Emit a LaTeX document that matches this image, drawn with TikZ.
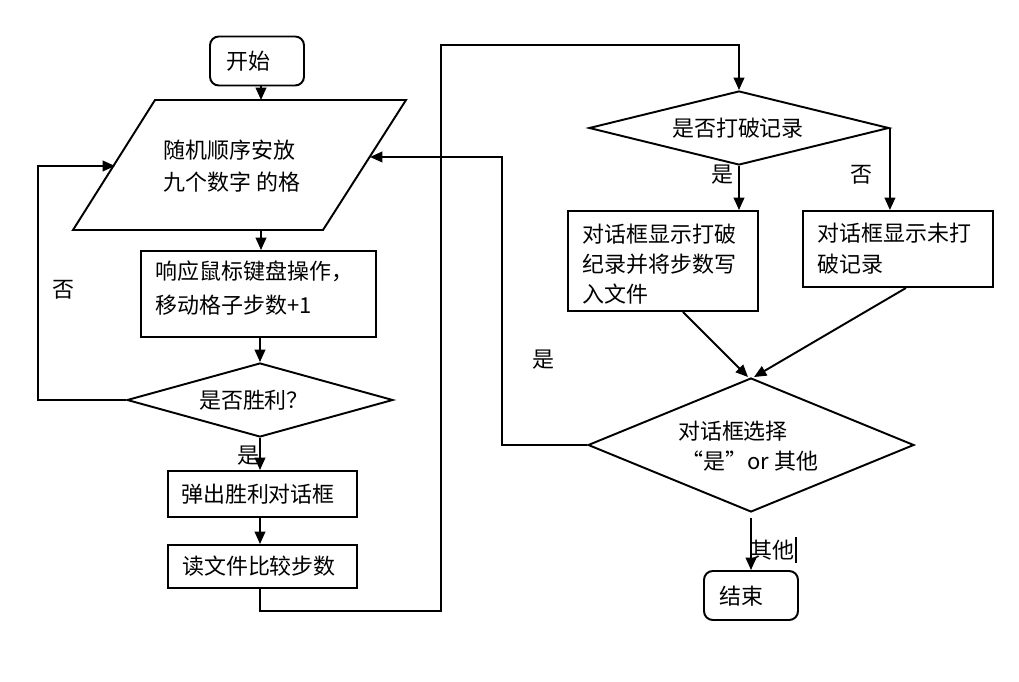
\documentclass[tikz,border=0pt]{standalone}
\usepackage{fontspec}
\newfontfamily\cjk{Noto Sans CJK SC}
\usetikzlibrary{shapes.geometric,arrows.meta}
\begin{document}
\begin{tikzpicture}[x=0.02cm,y=-0.02cm,
  line width=1.1pt,
  every node/.style={font=\cjk\fontsize{12.5}{17}\selectfont},
  box/.style={draw,rectangle,inner sep=0pt,line width=1.1pt},
  rbox/.style={box,rounded corners=5pt},
  dia/.style={draw,diamond,inner sep=0pt,line width=1.1pt},
  txt/.style={inner sep=0pt,align=left},
  arr/.style={-{Triangle[length=7pt,width=6pt]},line width=1.1pt},
  lbl/.style={inner sep=0pt},
]
\useasboundingbox (0,0) rectangle (1019,682);

% start
\node[rbox,minimum width=1.88cm,minimum height=0.98cm] (start) at (257,61) {};
\node[lbl] (starttxt) at (248,61) {开始};

% parallelogram
\draw (155,100) -- (406,100) -- (323,230) -- (73,230) -- cycle;
\coordinate (pT) at (261,100);
\coordinate (pB) at (261,230);
\coordinate (pL) at (115,166);
\coordinate (pR) at (370,157);
\node[txt,anchor=west,font=\cjk\fontsize{12.5}{17.8}\selectfont] (ptxt) at (163,166) {随机顺序安放\\九个数字 的格};

% box1
\node[box,minimum width=4.7cm,minimum height=1.72cm] (b1) at (258.5,294) {};
\node[txt,anchor=west,font=\cjk\fontsize{12.5}{19.8}\selectfont] (b1txt) at (155,288) {响应鼠标键盘操作，\\移动格子步数+1};

% diamond 1
\node[dia,minimum width=5.32cm,minimum height=1.48cm] (d1) at (260,400) {};
\node[lbl] (d1txt) at (254,400) {是否胜利？};

% box2, box3
\node[box,minimum width=3.78cm,minimum height=0.92cm] (b2) at (262.5,494) {};
\node[lbl] (b2txt) at (258,494) {弹出胜利对话框};
\node[box,minimum width=3.78cm,minimum height=0.86cm] (b3) at (262.5,566.5) {};
\node[lbl] (b3txt) at (259,566) {读文件比较步数};

% diamond 2
\node[dia,minimum width=6cm,minimum height=1.48cm] (d2) at (739,128) {};
\node[lbl] (d2txt) at (738,128) {是否打破记录};

% box4, box5
\node[box,minimum width=3.8cm,minimum height=2cm] (b4) at (663,261) {};
\node[txt,anchor=west] (b4txt) at (582,264) {对话框显示打破\\纪录并将步数写\\入文件};
\node[box,minimum width=3.8cm,minimum height=1.52cm] (b5) at (898,249) {};
\node[txt,anchor=west,font=\cjk\fontsize{12.5}{17.6}\selectfont] (b5txt) at (817,248.5) {对话框显示未打\\破记录};

% diamond 3
\node[dia,minimum width=6.52cm,minimum height=2.68cm] (d3) at (751,445) {};
\node[lbl] (d3a) at (733,431) {对话框选择};
\node[lbl] (d3b) at (750,461) {“是”or 其他};

% end
\node[rbox,minimum width=1.88cm,minimum height=0.98cm] (end) at (751,595.5) {};
\node[lbl] (endtxt) at (741,596) {结束};

% connectors left column
\draw[arr] (start.south -| pT) -- (pT);
\draw[arr] (pB) -- (pB |- b1.north);
\draw[arr] (b1.south -| d1.north) -- (d1.north);
\draw[arr] (d1.south) -- (d1.south |- b2.north);
\draw[arr] (b2.south -| d1.south) -- (d1.south |- b3.north);
\draw[arr] (d1.west) -- (38,400) |- (pL);
\node[lbl] (no1) at (63,290) {否};
\node[lbl] (yes1) at (248,456) {是};

% to right column
\draw[arr] (b3.south -| d1.south) -- (260,611) -- (441,611) -- (441,45) -| (d2.north);
\draw[arr] (d2.south) -- (d2.south |- b4.north);
\draw[arr] (d2.east) -- (d2.east |- b5.north);
\node[lbl] (yes2) at (722,175) {是};
\node[lbl] (no2) at (861,175) {否};
\draw[arr] ([xshift=0.4cm]b4.south) -- ([xshift=-0.06cm]d3.north);
\draw[arr] ([xshift=0.16cm]b5.south) -- ([xshift=0.06cm]d3.north);

% yes loop back
\draw[arr] (d3.west) -- (502,445) |- (pR);
\node[lbl] (yes3) at (543,360) {是};

% other -> end
\draw[arr] ([yshift=-0.1cm]d3.south) -- (end.north);
\node[lbl] (oth) at (772,550) {其他};
\draw[line width=0.8pt] (796,537) -- (796,563);
\end{tikzpicture}
\end{document}
